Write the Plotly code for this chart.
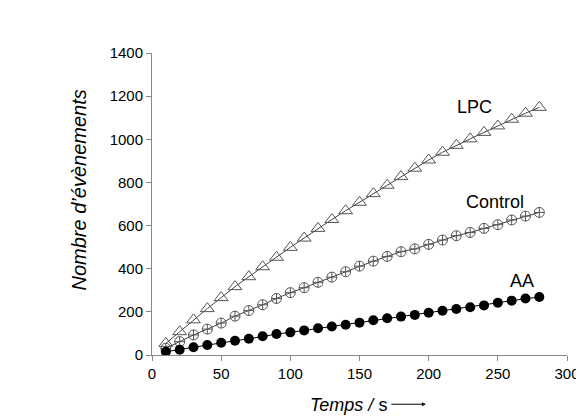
import plotly.graph_objects as go

time_s = [10, 20, 30, 40, 50, 60, 70, 80, 90, 100, 110, 120, 130, 140,
          150, 160, 170, 180, 190, 200, 210, 220, 230, 240, 250, 260, 270, 280]
lpc = [54, 108, 163, 215, 266, 317, 363, 409, 453, 499, 542, 587, 628, 669,
       708, 748, 787, 827, 866, 904, 940, 972, 1002, 1032, 1062, 1093, 1121, 1148]
control = [31, 62, 93, 120, 148, 180, 206, 233, 262, 289, 312, 337, 361, 386,
           412, 435, 457, 479, 492, 513, 533, 553, 568, 587, 604, 626, 644, 661]
aa = [15, 24, 36, 46, 57, 66, 75, 87, 97, 105, 114, 124, 132, 140,
      150, 161, 170, 178, 186, 196, 205, 213, 221, 230, 242, 252, 262, 269]

series_names = ["LPC", "Control", "AA"]
x_ticks = [0, 50, 100, 150, 200, 250, 300]
y_ticks = [0, 200, 400, 600, 800, 1000, 1200, 1400]

fig = go.Figure()
fig.add_trace(go.Scatter(
    x=time_s, y=lpc, mode="lines+markers", name=series_names[0],
    line=dict(color="#444", width=1),
    marker=dict(symbol="triangle-up-open", size=12, color="#555", line=dict(width=1))))
fig.add_trace(go.Scatter(
    x=time_s, y=control, mode="lines+markers", name=series_names[1],
    line=dict(color="#444", width=1),
    marker=dict(symbol="circle-cross-open", size=10, color="#555", line=dict(width=1))))
fig.add_trace(go.Scatter(
    x=time_s, y=aa, mode="lines+markers", name=series_names[2],
    line=dict(color="black", width=1),
    marker=dict(symbol="circle", size=10, color="black")))

font = "Liberation Sans, Arial, sans-serif"
axis_common = dict(showgrid=False, zeroline=False, showline=True, linecolor="#888",
                   linewidth=1, ticks="outside", tickcolor="#888", ticklen=5,
                   tickfont=dict(family=font, size=15, color="black"))
fig.update_xaxes(range=[0, 300], tickvals=x_ticks, **axis_common)
fig.update_yaxes(range=[0, 1400], tickvals=y_ticks, **axis_common)

fig.add_annotation(x=233, y=1150, text=series_names[0], showarrow=False,
                   font=dict(family=font, size=18, color="black"))
fig.add_annotation(x=247.6, y=709, text=series_names[1], showarrow=False,
                   font=dict(family=font, size=18, color="black"))
fig.add_annotation(x=267.7, y=343, text=series_names[2], showarrow=False,
                   font=dict(family=font, size=18, color="black"))

fig.add_annotation(xref="paper", yref="paper", x=-0.175, y=0.546, textangle=-90,
                   xanchor="center", yanchor="middle",
                   text="<i>Nombre d’évènements</i>", showarrow=False,
                   font=dict(family=font, size=20, color="black"))
fig.add_annotation(xref="paper", yref="paper", x=0.474, y=-0.166,
                   xanchor="center", yanchor="middle",
                   text="<i>Temps /</i> s", showarrow=False,
                   font=dict(family=font, size=18, color="black"))
fig.add_annotation(xref="paper", yref="paper", x=0.66, y=-0.163,
                   ax=-36, ay=0,
                   text="", showarrow=True, arrowhead=2, arrowsize=0.8,
                   arrowwidth=1, arrowcolor="black")

fig.update_layout(width=584, height=418, showlegend=False,
                  plot_bgcolor="white", paper_bgcolor="white",
                  margin=dict(l=144, r=22, t=45, b=71))
fig.write_html("out.html")
